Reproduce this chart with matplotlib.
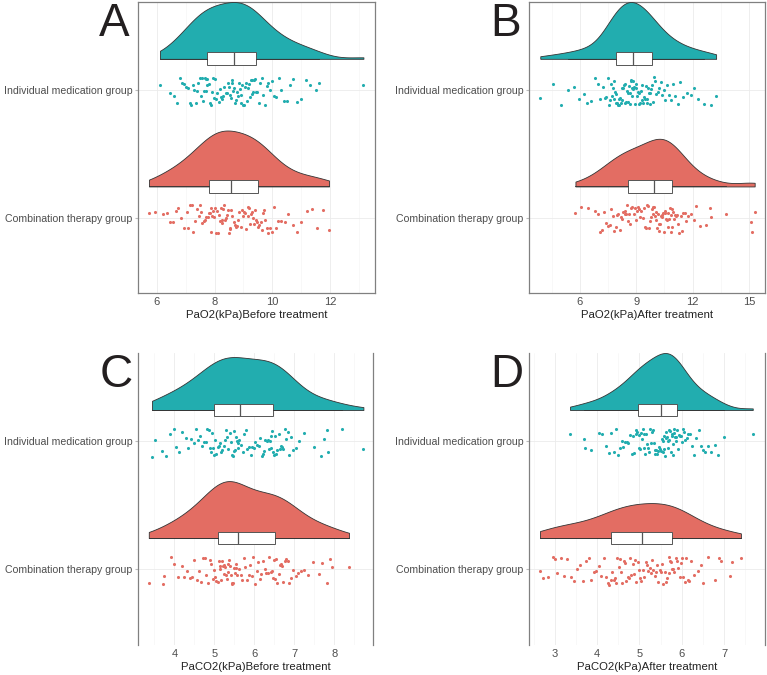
import numpy as np
import matplotlib
matplotlib.use("Agg")
import matplotlib.pyplot as plt
from matplotlib import cbook

plt.rcParams['font.family'] = ['Liberation Sans', 'DejaVu Sans']

groups = ["Combination therapy group", "Individual medication group"]
teal = "#22ADAF"
red = "#E36D63"

# A: PaO2 before treatment
a_ind = [6.11, 6.45, 6.6, 6.7, 6.8, 6.88, 6.95, 7.02, 7.08, 7.14, 7.2, 7.25, 7.3, 7.35, 7.4, 7.44, 7.48, 7.52, 7.56, 7.6, 7.63, 7.66, 7.69, 7.71, 7.73,
         7.75, 7.8, 7.83, 7.87, 7.9, 7.95, 7.98, 8.02, 8.06, 8.1, 8.14, 8.18, 8.22, 8.26, 8.3, 8.34, 8.38, 8.42, 8.46, 8.5, 8.53, 8.56, 8.6, 8.62, 8.64,
         8.67, 8.7, 8.73, 8.76, 8.8, 8.84, 8.87, 8.9, 8.93, 8.96, 9.0, 9.03, 9.06, 9.1, 9.13, 9.16, 9.19, 9.22, 9.25, 9.28, 9.31, 9.34, 9.37, 9.4, 9.43,
         9.47, 9.52, 9.58, 9.63, 9.68, 9.74, 9.8, 9.86, 9.92, 10.0, 10.06, 10.14, 10.22, 10.3, 10.4, 10.5, 10.6, 10.72, 10.85, 11.0, 11.15, 11.3, 11.5, 11.62, 13.15]
a_comb = [5.73, 5.95, 6.2, 6.35, 6.45, 6.55, 6.65, 6.75, 6.85, 6.95, 7.03, 7.09, 7.15, 7.21, 7.27, 7.33, 7.39, 7.45, 7.5, 7.54, 7.58, 7.63, 7.67, 7.72, 7.77,
          7.8, 7.83, 7.86, 7.89, 7.92, 7.96, 7.99, 8.02, 8.05, 8.08, 8.11, 8.14, 8.18, 8.21, 8.24, 8.27, 8.3, 8.33, 8.36, 8.4, 8.43, 8.46, 8.49, 8.52, 8.55,
          8.58, 8.62, 8.66, 8.7, 8.74, 8.78, 8.82, 8.86, 8.9, 8.94, 8.98, 9.02, 9.06, 9.1, 9.14, 9.17, 9.2, 9.23, 9.26, 9.29, 9.32, 9.36, 9.4, 9.44, 9.48,
          9.51, 9.55, 9.59, 9.63, 9.67, 9.71, 9.76, 9.81, 9.86, 9.92, 9.98, 10.05, 10.12, 10.2, 10.3, 10.42, 10.55, 10.7, 10.85, 11.0, 11.2, 11.38, 11.55, 11.75, 11.96]

# B: PaO2 after treatment
b_ind = [3.9, 4.6, 5.0, 5.4, 5.7, 5.95, 6.2, 6.4, 6.6, 6.8, 6.95, 7.1, 7.22, 7.32, 7.42, 7.5, 7.57, 7.63, 7.68, 7.72, 7.76, 7.8, 7.84, 7.88, 7.91,
         7.95, 7.99, 8.03, 8.07, 8.11, 8.15, 8.19, 8.23, 8.27, 8.31, 8.35, 8.39, 8.43, 8.47, 8.51, 8.55, 8.59, 8.62, 8.65, 8.68, 8.71, 8.74, 8.77, 8.8, 8.82,
         8.85, 8.89, 8.93, 8.97, 9.01, 9.05, 9.09, 9.13, 9.17, 9.21, 9.25, 9.29, 9.33, 9.37, 9.41, 9.45, 9.5, 9.55, 9.6, 9.64, 9.68, 9.72, 9.76, 9.8, 9.84,
         9.9, 9.96, 10.02, 10.08, 10.15, 10.22, 10.3, 10.38, 10.46, 10.55, 10.64, 10.74, 10.85, 10.96, 11.08, 11.2, 11.35, 11.5, 11.7, 11.9, 12.1, 12.3, 12.6, 13.0, 13.25]
b_comb = [5.77, 6.05, 6.45, 6.8, 6.95, 7.1, 7.2, 7.3, 7.4, 7.5, 7.6, 7.68, 7.75, 7.82, 7.9, 7.97, 8.05, 8.12, 8.2, 8.26, 8.32, 8.38, 8.43, 8.48, 8.53,
          8.58, 8.63, 8.68, 8.74, 8.8, 8.86, 8.92, 8.98, 9.04, 9.1, 9.16, 9.22, 9.28, 9.34, 9.4, 9.46, 9.52, 9.58, 9.63, 9.68, 9.73, 9.78, 9.83, 9.87, 9.91,
          9.95, 9.99, 10.03, 10.07, 10.11, 10.15, 10.19, 10.23, 10.27, 10.31, 10.35, 10.39, 10.43, 10.47, 10.51, 10.55, 10.59, 10.63, 10.67, 10.71, 10.75, 10.79, 10.83, 10.86, 10.89,
          10.93, 10.98, 11.03, 11.08, 11.13, 11.18, 11.24, 11.3, 11.36, 11.43, 11.5, 11.58, 11.67, 11.78, 11.9, 12.05, 12.2, 12.4, 12.7, 12.9, 13.0, 13.8, 15.1, 15.15, 15.3]

# C: PaCO2 before treatment
c_ind = [3.44, 3.52, 3.68, 3.8, 3.9, 3.98, 4.05, 4.12, 4.2, 4.28, 4.35, 4.42, 4.48, 4.54, 4.6, 4.65, 4.7, 4.74, 4.78, 4.82, 4.86, 4.89, 4.92, 4.94, 4.96,
         4.99, 5.02, 5.05, 5.08, 5.11, 5.14, 5.17, 5.2, 5.23, 5.26, 5.29, 5.32, 5.35, 5.38, 5.41, 5.44, 5.46, 5.48, 5.5, 5.52, 5.54, 5.56, 5.58, 5.6, 5.62,
         5.67, 5.71, 5.75, 5.79, 5.83, 5.87, 5.91, 5.95, 5.99, 6.03, 6.07, 6.11, 6.15, 6.19, 6.22, 6.25, 6.28, 6.31, 6.34, 6.37, 6.39, 6.41, 6.43, 6.45, 6.46,
         6.49, 6.52, 6.55, 6.58, 6.61, 6.64, 6.67, 6.7, 6.73, 6.76, 6.8, 6.84, 6.88, 6.93, 6.98, 7.05, 7.12, 7.25, 7.5, 7.68, 7.75, 7.82, 7.85, 8.2, 8.73]
c_comb = [3.36, 3.72, 3.75, 3.92, 4.0, 4.1, 4.18, 4.25, 4.32, 4.38, 4.44, 4.5, 4.56, 4.61, 4.66, 4.71, 4.76, 4.8, 4.84, 4.88, 4.92, 4.96, 4.99, 5.02, 5.05,
          5.09, 5.11, 5.13, 5.15, 5.17, 5.19, 5.21, 5.23, 5.25, 5.27, 5.29, 5.31, 5.33, 5.35, 5.37, 5.39, 5.41, 5.43, 5.45, 5.47, 5.49, 5.51, 5.53, 5.55, 5.57,
          5.62, 5.66, 5.7, 5.74, 5.78, 5.82, 5.86, 5.9, 5.94, 5.98, 6.02, 6.06, 6.1, 6.14, 6.18, 6.22, 6.26, 6.3, 6.34, 6.38, 6.41, 6.44, 6.47, 6.5, 6.52,
          6.55, 6.58, 6.61, 6.64, 6.67, 6.7, 6.73, 6.76, 6.8, 6.84, 6.88, 6.93, 6.98, 7.04, 7.1, 7.17, 7.25, 7.35, 7.48, 7.62, 7.7, 7.82, 7.9, 7.95, 8.37]

# D: PaCO2 after treatment
d_ind = [3.36, 3.7, 3.72, 3.85, 4.05, 4.12, 4.2, 4.27, 4.33, 4.39, 4.44, 4.49, 4.54, 4.58, 4.62, 4.66, 4.7, 4.74, 4.78, 4.82, 4.85, 4.88, 4.91, 4.93, 4.95,
         4.98, 5.0, 5.02, 5.04, 5.06, 5.08, 5.1, 5.12, 5.14, 5.16, 5.18, 5.2, 5.23, 5.26, 5.28, 5.3, 5.32, 5.34, 5.36, 5.38, 5.4, 5.42, 5.44, 5.46, 5.48,
         5.52, 5.53, 5.55, 5.56, 5.58, 5.59, 5.61, 5.62, 5.64, 5.65, 5.67, 5.68, 5.7, 5.71, 5.73, 5.74, 5.76, 5.77, 5.79, 5.8, 5.82, 5.83, 5.85, 5.86, 5.87,
         5.9, 5.92, 5.94, 5.96, 5.98, 6.0, 6.02, 6.05, 6.08, 6.12, 6.16, 6.2, 6.25, 6.3, 6.35, 6.4, 6.45, 6.5, 6.55, 6.62, 6.7, 6.78, 6.85, 7.0, 7.68]
d_comb = [2.65, 2.72, 2.85, 2.95, 3.0, 3.05, 3.15, 3.22, 3.3, 3.38, 3.45, 3.52, 3.6, 3.67, 3.74, 3.8, 3.86, 3.92, 3.98, 4.04, 4.1, 4.16, 4.21, 4.25, 4.29,
          4.33, 4.36, 4.39, 4.42, 4.45, 4.48, 4.51, 4.54, 4.57, 4.6, 4.63, 4.66, 4.69, 4.72, 4.75, 4.78, 4.81, 4.84, 4.87, 4.9, 4.93, 4.96, 4.99, 5.02, 5.04,
          5.09, 5.12, 5.15, 5.18, 5.21, 5.24, 5.27, 5.3, 5.33, 5.36, 5.39, 5.42, 5.45, 5.48, 5.51, 5.54, 5.57, 5.6, 5.63, 5.66, 5.69, 5.71, 5.73, 5.75, 5.77,
          5.8, 5.83, 5.86, 5.89, 5.92, 5.95, 5.98, 6.01, 6.04, 6.07, 6.1, 6.14, 6.18, 6.23, 6.3, 6.38, 6.45, 6.5, 6.62, 6.78, 6.88, 6.92, 7.15, 7.2, 7.4]

panels = [
    ("A", a_comb, a_ind, "PaO2(kPa)Before treatment", [6, 8, 10, 12], (5.35, 13.55)),
    ("B", b_comb, b_ind, "PaO2(kPa)After treatment", [6, 9, 12, 15], (3.3, 15.85)),
    ("C", c_comb, c_ind, "PaCO2(kPa)Before treatment", [4, 5, 6, 7, 8], (3.09, 8.97)),
    ("D", d_comb, d_ind, "PaCO2(kPa)After treatment", [3, 4, 5, 6, 7], (2.39, 7.97)),
]

# axes boxes in figure fractions (left, bottom, width, height)
boxes = [
    (0.1799, 0.5659, 0.3090, 0.4311),
    (0.6897, 0.5659, 0.3077, 0.4311),
    (0.1799, 0.0444, 0.3064, 0.4326),
    (0.6897, 0.0444, 0.3077, 0.4326),
]


def bw_nrd0(x):
    sd = np.std(x, ddof=1)
    q75, q25 = np.percentile(x, [75, 25])
    lo = min(sd, (q75 - q25) / 1.34)
    return 0.9 * lo * len(x) ** -0.2


def kde(x, grid, adjust=1.2):
    bw = bw_nrd0(x) * adjust
    z = (grid[:, None] - x[None, :]) / bw
    return np.exp(-0.5 * z ** 2).sum(axis=1) / (len(x) * bw * np.sqrt(2 * np.pi))


def jitter(n, seed):
    # integer hash of the point index -> offset in [-0.5, 0.5)
    k = (np.arange(n, dtype=np.uint64) + np.uint64(seed * 1000))
    with np.errstate(over="ignore"):
        h = (k * np.uint64(2654435761)) & np.uint64(0xFFFFFFFF)
        h ^= h >> np.uint64(15)
        h = (h * np.uint64(2246822519)) & np.uint64(0xFFFFFFFF)
        h ^= h >> np.uint64(13)
        h = (h * np.uint64(3266489917)) & np.uint64(0xFFFFFFFF)
        h ^= h >> np.uint64(16)
    return h.astype(float) / 2 ** 32 - 0.5


fig = plt.figure(figsize=(7.67, 6.75), dpi=100)

nudge = 0.245
max_h = 0.445

for p, ((letter, comb, ind, xlabel, ticks, xlim), box) in enumerate(zip(panels, boxes)):
    ax = fig.add_axes(box)
    data = [np.array(comb), np.array(ind)]
    cols = [red, teal]

    grids, dens = [], []
    for d in data:
        g = np.linspace(d.min(), d.max(), 300)
        grids.append(g)
        dens.append(kde(d, g))
    scale = max_h / max(dd.max() for dd in dens)

    for i, (d, g, dd, c) in enumerate(zip(data, grids, dens, cols)):
        pos = i + 1
        base = pos + nudge
        ax.fill_between(g, base, base + dd * scale, facecolor=c, edgecolor="#333333",
                        linewidth=0.6, zorder=3)
        stats = cbook.boxplot_stats(d)
        ax.bxp(stats, positions=[base], widths=0.1, orientation="horizontal",
               showfliers=False, showcaps=False, patch_artist=True,
               boxprops=dict(facecolor="white", edgecolor="#555555", linewidth=0.7),
               medianprops=dict(color="#555555", linewidth=0.9),
               whiskerprops=dict(color="#333333", linewidth=0.6),
               manage_ticks=False, zorder=4)
        jit = jitter(len(d), 2 * p + i + 1) * 0.22 - 0.01
        ax.scatter(d, pos + jit, s=5, color=c, linewidths=0, zorder=3)

    ax.set_xlim(*xlim)
    ax.set_ylim(0.41, 2.69)
    ax.set_yticks([1, 2])
    ax.set_yticklabels(groups)
    ax.set_xticks(ticks)
    step = ticks[1] - ticks[0]
    minors = np.arange(ticks[0] - step / 2, xlim[1], step)
    ax.set_xticks([m for m in minors if m > xlim[0]], minor=True)
    ax.grid(True, which="major", axis="both", color="#EBEBEB", linewidth=0.6, zorder=0)
    ax.grid(True, which="minor", axis="x", color="#F4F4F4", linewidth=0.4, zorder=0)
    ax.set_axisbelow(True)
    ax.tick_params(axis="x", which="both", length=0, labelsize=8, labelcolor="#4D4D4D", pad=3)
    ax.tick_params(axis="y", length=2, color="#BBBBBB", labelsize=7.6, labelcolor="#4D4D4D", pad=2)
    ax.set_xlabel(xlabel, fontsize=8.2, color="#222222", labelpad=2)

    for s in ax.spines.values():
        s.set_color("#808080")
        s.set_linewidth(0.9)
    if letter in ("C", "D"):
        ax.spines["top"].set_visible(False)
        ax.spines["bottom"].set_visible(False)

    ax.text(-0.165, 1.0, letter, transform=ax.transAxes, fontsize=33,
            color="#231F20", ha="left", va="top")

fig.savefig("out.png", dpi=100)
